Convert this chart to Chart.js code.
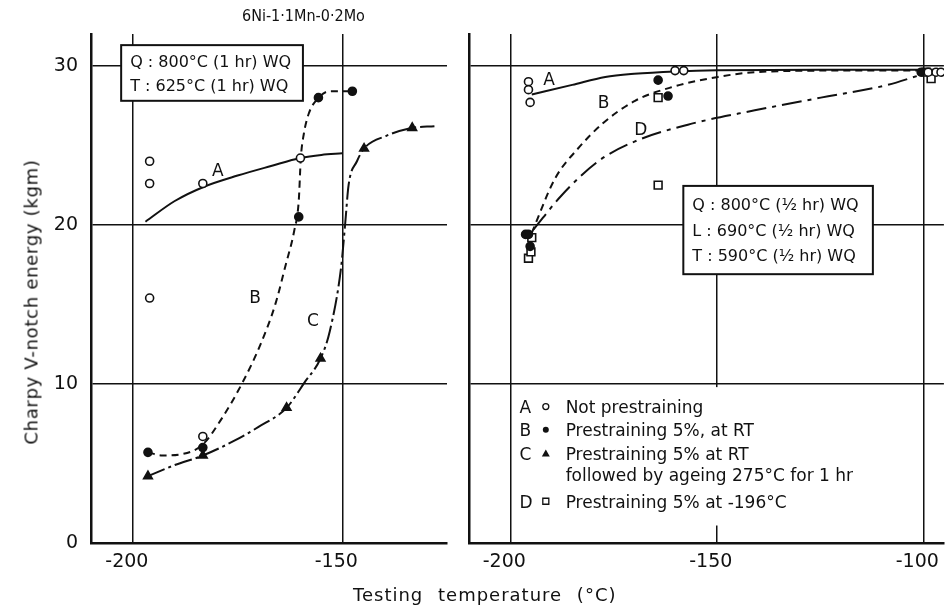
<!DOCTYPE html>
<html>
<head>
<meta charset="utf-8">
<script src="https://cdn.jsdelivr.net/npm/chart.js@4.4.1/dist/chart.umd.min.js"></script>
<style>
  body { margin: 0; background: #fff; }
  #wrap { position: relative; width: 951px; height: 610px; overflow: hidden; color: #111; font-family: "DejaVu Sans", sans-serif; }
  canvas { position: absolute; top: 0; }
  #left { left: 0; }
  #right { left: 458px; }
  .txt { position: absolute; white-space: nowrap; }
  #title { left: 242px; top: 6px; font-size: 16px; font-family: "DejaVu Sans Condensed", "DejaVu Sans", sans-serif; }
  #xtitle { left: 353px; top: 584px; font-size: 18px; letter-spacing: 1px; word-spacing: 8px; }
  #ytitle { left: 31px; top: 302px; font-size: 18px; letter-spacing: 0.7px; transform: translate(-50%, -50%) rotate(-90deg); }
</style>
</head>
<body>
<div id="wrap">
  <canvas id="left" width="458" height="610"></canvas>
  <canvas id="right" width="493" height="610"></canvas>
  <div class="txt" id="title">6Ni-1·1Mn-0·2Mo</div>
  <div class="txt" id="xtitle">Testing temperature (°C)</div>
  <div class="txt" id="ytitle">Charpy V-notch energy (kgm)</div>
</div>
<script>
const ink = "#111";
const family = "'DejaVu Sans', sans-serif";

// axes
const yTicks = [0, 10, 20, 30];
const leftXTicks = [-200, -150];
const rightXTicks = [-200, -150, -100];

// left panel (Q 800C 1hr, T 625C 1hr) - measured points
const leftA = [[-196, 24.0], [-196, 22.6], [-196, 15.4], [-183.3, 22.6], [-160, 24.2], [-183.3, 6.7]];
const leftB = [[-196.4, 5.7], [-183.3, 6.0], [-160.4, 20.5], [-155.7, 28.0], [-147.6, 28.4]];
const leftC = [[-196.4, 4.2], [-183.3, 5.5], [-163.3, 8.5], [-155.2, 11.6], [-144.8, 24.8], [-133.3, 26.1]];
// left panel - fitted curves as drawn
const leftCurveA = [[-197, 20.2], [-190, 21.5], [-183, 22.4], [-175, 23.1], [-167, 23.7], [-160, 24.2], [-155, 24.4], [-150, 24.5]];
const leftCurveB = [[-196.4, 5.7], [-193, 5.5], [-188, 5.6], [-183.3, 6.2], [-178.6, 7.9], [-173.8, 10.1], [-169.5, 12.5], [-166, 15.0],
  [-163.5, 17.5], [-161.5, 19.6], [-160.4, 21.5], [-159.9, 24.2], [-159.2, 25.7], [-158, 27.0], [-156, 27.9], [-153, 28.4], [-147.6, 28.4]];
const leftCurveC = [[-196.4, 4.2], [-190, 4.9], [-183.3, 5.5], [-176, 6.4], [-170, 7.3], [-163.3, 8.5], [-159, 10.1], [-155.2, 11.6],
  [-153, 13.3], [-150.3, 17.3], [-149.3, 20.1], [-148.5, 22.5], [-146.5, 24.0], [-144.8, 24.8], [-139.5, 25.6], [-133.3, 26.1], [-128, 26.2]];

// right panel (Q 800C, L 690C, T 590C) - measured points
const rightA = [[-195.6, 29.0], [-195.6, 28.5], [-195.2, 27.7], [-160.1, 29.7], [-158, 29.7], [-98.8, 29.6], [-96.9, 29.6], [-95.7, 29.6]];
const rightB = [[-196.3, 19.4], [-195.6, 19.4], [-195.2, 18.65], [-164.2, 29.1], [-161.8, 28.1], [-100.5, 29.6]];
const rightD = [[-195.6, 17.9], [-195, 18.3], [-194.8, 19.2], [-164.2, 28.0], [-164.2, 22.5], [-99.3, 29.6], [-98.1, 29.2]];
// right panel - fitted curves
const rightCurveA = [[-194.8, 28.2], [-185, 28.8], [-177, 29.3], [-170, 29.5], [-160, 29.65], [-150, 29.72], [-120, 29.75], [-97, 29.75]];
const rightCurveB = [[-194.8, 19.5], [-189.2, 22.9], [-183.6, 24.8], [-177.5, 26.4], [-169.8, 27.8], [-161, 28.65], [-149.7, 29.3],
  [-140.8, 29.6], [-120, 29.7], [-100.5, 29.7]];
const rightCurveD = [[-194.4, 19.7], [-187.6, 21.85], [-178.7, 24.0], [-169.8, 25.25], [-157, 26.3], [-140.8, 27.2], [-124.8, 28.0],
  [-108.6, 28.8], [-101, 29.4]];

const xy = list => list.map(p => ({ x: p[0], y: p[1] }));

function curve(list, dash) {
  return { data: xy(list), showLine: true, pointRadius: 0, borderColor: ink, borderWidth: 2,
    borderDash: dash, cubicInterpolationMode: "monotone", fill: false };
}
function marks(list, style, filled, r) {
  return { data: xy(list), showLine: false, pointStyle: style, pointRadius: r,
    pointBackgroundColor: filled ? ink : "#fff", pointBorderColor: ink, pointBorderWidth: 1.6 };
}

function scales(xMin, xMax, xTicks, showY, yWidth) {
  const grid = { color: ink, lineWidth: 1.5, drawTicks: false };
  const border = { display: true, color: ink, width: 2.5 };
  return {
    x: {
      type: "linear", min: xMin, max: xMax, grid, border,
      afterBuildTicks: s => { s.ticks = xTicks.map(v => ({ value: v })); },
      afterFit: s => { s.height = 67; s.paddingLeft = 0; s.paddingRight = 0; },
      ticks: { color: ink, font: { size: 19, family }, padding: 8, labelOffset: -6, maxRotation: 0, autoSkip: false,
        callback: v => String(v) }
    },
    y: {
      type: "linear", min: 0, max: 32, grid, border,
      afterBuildTicks: s => { s.ticks = yTicks.map(v => ({ value: v })); },
      afterFit: s => { s.width = yWidth; s.paddingTop = 0; s.paddingBottom = 0; },
      ticks: { display: showY, color: ink, font: { size: 19, family }, padding: 13, callback: v => String(v) }
    }
  };
}

// annotation plugin: boxes, blank areas, curve letters, key
function notes(cfg) {
  return {
    id: "notes",
    beforeDatasetsDraw(chart) {
      const ctx = chart.ctx, sx = chart.scales.x, sy = chart.scales.y;
      ctx.save();
      (cfg.blanks || []).forEach(b => {
        const x0 = sx.getPixelForValue(b.x0), x1 = sx.getPixelForValue(b.x1);
        const y0 = sy.getPixelForValue(b.y0), y1 = sy.getPixelForValue(b.y1);
        ctx.fillStyle = "#fff";
        ctx.fillRect(x0, y0, x1 - x0, y1 - y0);
      });
      (cfg.boxes || []).forEach(b => {
        const x0 = sx.getPixelForValue(b.x0), x1 = sx.getPixelForValue(b.x1);
        const y0 = sy.getPixelForValue(b.y0), y1 = sy.getPixelForValue(b.y1);
        ctx.fillStyle = "#fff";
        ctx.fillRect(x0, y0, x1 - x0, y1 - y0);
        ctx.strokeStyle = ink;
        ctx.lineWidth = 2;
        ctx.strokeRect(x0, y0, x1 - x0, y1 - y0);
        ctx.fillStyle = ink;
        ctx.font = "16px " + family;
        ctx.textBaseline = "middle";
        ctx.textAlign = "left";
        b.lines.forEach((t, i) => ctx.fillText(t, x0 + 9, y0 + b.first + i * b.step));
      });
      (cfg.key || []).forEach(k => {
        const y = sy.getPixelForValue(k.y);
        ctx.fillStyle = ink;
        ctx.font = "17px " + family;
        ctx.textBaseline = "middle";
        ctx.textAlign = "left";
        if (k.letter) ctx.fillText(k.letter, sx.getPixelForValue(cfg.keyX[0]), y);
        ctx.fillText(k.text, sx.getPixelForValue(cfg.keyX[2]), y);
        if (k.symbol) {
          const cx = sx.getPixelForValue(cfg.keyX[1]);
          ctx.lineWidth = 1.3;
          ctx.strokeStyle = ink;
          ctx.beginPath();
          if (k.symbol === "circle") ctx.arc(cx, y - 2, 3, 0, Math.PI * 2);
          if (k.symbol === "rect") ctx.rect(cx - 3, y - 5, 6, 6);
          if (k.symbol === "triangle") { ctx.moveTo(cx, y - 6); ctx.lineTo(cx + 4, y + 1); ctx.lineTo(cx - 4, y + 1); ctx.closePath(); }
          if (k.filled) ctx.fill(); else ctx.stroke();
        }
      });
      ctx.restore();
    },
    afterDatasetsDraw(chart) {
      const ctx = chart.ctx, sx = chart.scales.x, sy = chart.scales.y;
      ctx.save();
      ctx.fillStyle = ink;
      ctx.font = "17px " + family;
      ctx.textAlign = "center";
      ctx.textBaseline = "middle";
      (cfg.letters || []).forEach(l => ctx.fillText(l.text, sx.getPixelForValue(l.x), sy.getPixelForValue(l.y)));
      ctx.restore();
    }
  };
}

const common = { responsive: false, animation: false, devicePixelRatio: 1, events: [],
  plugins: { legend: { display: false }, tooltip: { enabled: false } } };

new Chart(document.getElementById("left"), {
  type: "scatter",
  data: {
    datasets: [
      marks(leftA, "circle", false, 4),
      marks(leftB, "circle", true, 4),
      marks(leftC, "triangle", true, 5),
      curve(leftCurveA, []),
      curve(leftCurveB, [7, 5]),
      curve(leftCurveC, [18, 4, 3, 4])
    ]
  },
  options: Object.assign({}, common, {
    layout: { padding: { left: 0, top: 34, right: 11, bottom: 0 } },
    scales: scales(-210, -125, leftXTicks, true, 91)
  }),
  plugins: [notes({
    boxes: [{ x0: -202.8, x1: -159.4, y0: 31.3, y1: 27.8, first: 18, step: 24,
      lines: ["Q : 800°C (1 hr) WQ", "T : 625°C (1 hr) WQ"] }],
    letters: [{ text: "A", x: -179.7, y: 23.35 }, { text: "B", x: -170.8, y: 15.35 }, { text: "C", x: -157.0, y: 13.9 }]
  })]
});

new Chart(document.getElementById("right"), {
  type: "scatter",
  data: {
    datasets: [
      marks(rightA, "circle", false, 4),
      marks(rightB, "circle", true, 4),
      marks(rightD, "rect", false, 5.5),
      curve(rightCurveA, []),
      curve(rightCurveB, [7, 5]),
      curve(rightCurveD, [20, 6, 4, 6])
    ]
  },
  options: Object.assign({}, common, {
    layout: { padding: { left: 0, top: 34, right: 0, bottom: 0 } },
    scales: scales(-210, -95, rightXTicks, false, 11)
  }),
  plugins: [notes({
    blanks: [{ x0: -198, x1: -103, y0: 9.8, y1: 1.1 }],
    boxes: [{ x0: -158.1, x1: -112.2, y0: 22.45, y1: 16.9, first: 20, step: 25.5,
      lines: ["Q : 800°C (½ hr) WQ", "L : 690°C (½ hr) WQ", "T : 590°C (½ hr) WQ"] }],
    keyX: [-197.8, -191.4, -186.6],
    key: [
      { letter: "A", symbol: "circle", filled: false, text: "Not prestraining", y: 8.45 },
      { letter: "B", symbol: "circle", filled: true, text: "Prestraining 5%, at RT", y: 7.0 },
      { letter: "C", symbol: "triangle", filled: true, text: "Prestraining 5% at RT", y: 5.5 },
      { text: "followed by ageing 275°C for 1 hr", y: 4.2 },
      { letter: "D", symbol: "rect", filled: false, text: "Prestraining 5% at -196°C", y: 2.5 }
    ],
    letters: [{ text: "A", x: -190.6, y: 29.1 }, { text: "B", x: -177.4, y: 27.6 }, { text: "D", x: -168.4, y: 25.9 }]
  })]
});
</script>
</body>
</html>
